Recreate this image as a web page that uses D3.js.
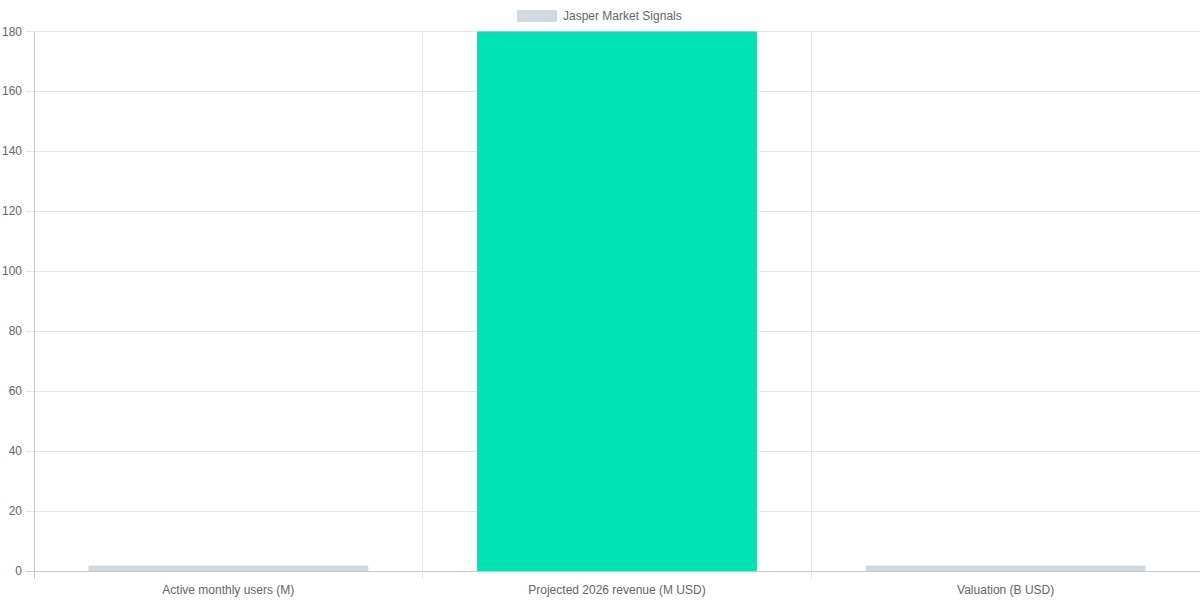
<!DOCTYPE html>
<html><head><meta charset="utf-8">
<script src="https://cdn.jsdelivr.net/npm/d3@7"></script>
<style>body{margin:0;background:#fff}svg{display:block;font-family:"Liberation Sans",Arial,sans-serif}</style>
</head><body><svg id="c" width="1200" height="600"></svg>
<script>
const categories = ["Active monthly users (M)", "Projected 2026 revenue (M USD)", "Valuation (B USD)"];
const values = [1.8, 180, 1.8];
const barColors = ["#d1d9e1", "#00e3b4", "#d1d9e1"];
const yTicks = [0, 20, 40, 60, 80, 100, 120, 140, 160, 180];
const seriesName = "Jasper Market Signals";

const svg = d3.select("#c");
const m = {l: 34, r: 1200, t: 31.5, b: 571};
const x = d3.scaleBand().domain(categories).range([m.l, m.r]).paddingInner(0).paddingOuter(0);
const y = d3.scaleLinear().domain([0, 180]).range([m.b, m.t]);

// horizontal grid
svg.append("g").selectAll("line").data(yTicks).join("line")
  .attr("x1", m.l - 8).attr("x2", m.r).attr("y1", d => Math.floor(y(d)) + 0.5).attr("y2", d => Math.floor(y(d)) + 0.5)
  .attr("stroke", d => d === 0 ? "#c8c8c8" : "#e6e6e6").attr("stroke-width", 1);
// vertical grid
const vx = categories.map((c, i) => x(c)).concat([m.r]);
svg.append("g").selectAll("line").data(vx.slice(1, 3)).join("line")
  .attr("x1", d => Math.floor(d) + 0.5).attr("x2", d => Math.floor(d) + 0.5)
  .attr("y1", m.t).attr("y2", m.b + 8).attr("stroke", "#e6e6e6");
// left axis line
svg.append("line").attr("x1", m.l + 0.5).attr("x2", m.l + 0.5).attr("y1", m.t).attr("y2", m.b + 8).attr("stroke", "#c8c8c8");

// bars
const bw = x.bandwidth() * 0.72;
svg.append("g").selectAll("rect").data(values).join("rect")
  .attr("x", (d, i) => x(categories[i]) + (x.bandwidth() - bw) / 2)
  .attr("width", bw)
  .attr("y", d => y(d)).attr("height", d => y(0) - y(d))
  .attr("fill", (d, i) => barColors[i]);

// y labels
svg.append("g").selectAll("text").data(yTicks).join("text")
  .attr("x", 22).attr("y", d => y(d) + 4).attr("text-anchor", "end")
  .attr("font-size", 12).attr("fill", "#666").text(d => d);
// x labels
svg.append("g").selectAll("text").data(categories).join("text")
  .attr("x", d => x(d) + x.bandwidth() / 2).attr("y", 594).attr("text-anchor", "middle")
  .attr("font-size", 12).attr("fill", "#666").text(d => d);

// legend
svg.append("rect").attr("x", 517).attr("y", 10).attr("width", 40).attr("height", 12).attr("fill", "#d1d9e1");
svg.append("text").attr("x", 563).attr("y", 20).attr("font-size", 12).attr("fill", "#666").text(seriesName);
</script></body></html>
